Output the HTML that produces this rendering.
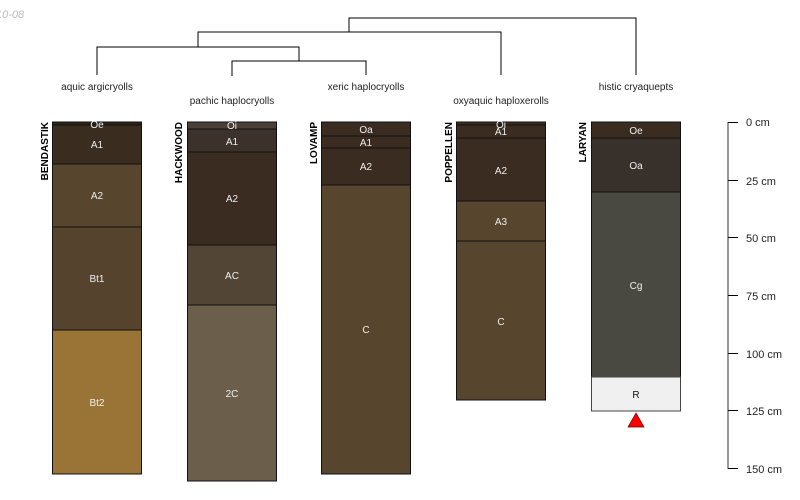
<!DOCTYPE html>
<html><head><style>body{margin:0;background:#fff}svg{display:block}</style></head>
<body>
<svg width="800" height="500" xmlns="http://www.w3.org/2000/svg" font-family="Liberation Sans, sans-serif">
<text x="-4" y="18" font-size="11" font-style="italic" fill="#bbb">10-08</text>
<g stroke="#000" stroke-width="1" fill="none">
<polyline points="349,32 349,18 636,18 636,75"/>
<polyline points="198,47 198,32 501,32 501,75"/>
<polyline points="97,75 97,47 299,47 299,61"/>
<polyline points="232,76 232,61 366,61 366,75"/>
</g>
<g font-size="10" fill="#222" text-anchor="middle">
<text x="97" y="90">aquic argicryolls</text>
<text x="232" y="104">pachic haplocryolls</text>
<text x="366" y="90">xeric haplocryolls</text>
<text x="501" y="104">oxyaquic haploxerolls</text>
<text x="636" y="90">histic cryaquepts</text>
</g>
<g font-size="10" font-weight="bold" fill="#000">
<text transform="translate(48,122) rotate(-90)" text-anchor="end">BENDASTIK</text>
<text transform="translate(182,122) rotate(-90)" text-anchor="end">HACKWOOD</text>
<text transform="translate(317,122) rotate(-90)" text-anchor="end">LOVAMP</text>
<text transform="translate(452,122) rotate(-90)" text-anchor="end">POPPELLEN</text>
<text transform="translate(586,122) rotate(-90)" text-anchor="end">LARYAN</text>
</g>
<g stroke="#111" stroke-width="1">
<rect x="52.5" y="122" width="89" height="3" fill="#2f2418"/>
<rect x="52.5" y="125" width="89" height="39" fill="#3a2d20"/>
<rect x="52.5" y="164" width="89" height="63" fill="#58452e"/>
<rect x="52.5" y="227" width="89" height="103" fill="#56432d"/>
<rect x="52.5" y="330" width="89" height="144" fill="#9a7437"/>

<rect x="187.5" y="122" width="89" height="7" fill="#4a4038"/>
<rect x="187.5" y="129" width="89" height="23" fill="#3a322b"/>
<rect x="187.5" y="152" width="89" height="93" fill="#3a2c20"/>
<rect x="187.5" y="245" width="89" height="60" fill="#524536"/>
<rect x="187.5" y="305" width="89" height="176" fill="#6b5f4b"/>

<rect x="321.5" y="122" width="89" height="14" fill="#3a2c20"/>
<rect x="321.5" y="136" width="89" height="12" fill="#3a2c20"/>
<rect x="321.5" y="148" width="89" height="37" fill="#3a2c20"/>
<rect x="321.5" y="185" width="89" height="289" fill="#58452e"/>

<rect x="456.5" y="122" width="89" height="3" fill="#3a2c20"/>
<rect x="456.5" y="125" width="89" height="13" fill="#3a2c20"/>
<rect x="456.5" y="138" width="89" height="63" fill="#3a2c20"/>
<rect x="456.5" y="201" width="89" height="40" fill="#58452e"/>
<rect x="456.5" y="241" width="89" height="159" fill="#58452e"/>

<rect x="591.5" y="122" width="89" height="16" fill="#3a2c20"/>
<rect x="591.5" y="138" width="89" height="54" fill="#38302b"/>
<rect x="591.5" y="192" width="89" height="185" fill="#494941"/>
<rect x="591.5" y="377" width="89" height="34" fill="#f0f0f0" stroke="#444"/>
</g>
<polygon points="636,413 628,427 644,427" fill="#f00" stroke="#600" stroke-width="0.7"/>
<g font-size="10" fill="#eee" text-anchor="middle">
<text x="97" y="128">Oe</text>
<text x="97" y="148">A1</text>
<text x="97" y="199">A2</text>
<text x="97" y="282">Bt1</text>
<text x="97" y="406">Bt2</text>
<text x="232" y="129">Oi</text>
<text x="232" y="145">A1</text>
<text x="232" y="202">A2</text>
<text x="232" y="279">AC</text>
<text x="232" y="397">2C</text>
<text x="366" y="133">Oa</text>
<text x="366" y="146">A1</text>
<text x="366" y="170">A2</text>
<text x="366" y="333">C</text>
<text x="501" y="128">Oi</text>
<text x="501" y="135">A1</text>
<text x="501" y="174">A2</text>
<text x="501" y="225">A3</text>
<text x="501" y="325">C</text>
<text x="636" y="134">Oe</text>
<text x="636" y="169">Oa</text>
<text x="636" y="289">Cg</text>
<text x="636" y="398" fill="#111">R</text>
</g>
<g stroke="#777" stroke-width="1.5" fill="none">
<line x1="728" y1="122" x2="728" y2="469"/>
</g>
<g stroke="#000" stroke-width="1">
<line x1="728" y1="122.5" x2="738" y2="122.5"/>
<line x1="728" y1="180.5" x2="738" y2="180.5"/>
<line x1="728" y1="237.5" x2="738" y2="237.5"/>
<line x1="728" y1="295.5" x2="738" y2="295.5"/>
<line x1="728" y1="353.5" x2="738" y2="353.5"/>
<line x1="728" y1="410.5" x2="738" y2="410.5"/>
<line x1="728" y1="468.5" x2="738" y2="468.5"/>
</g>
<g font-size="11" fill="#222">
<text x="746" y="126">0 cm</text>
<text x="746" y="185">25 cm</text>
<text x="746" y="242">50 cm</text>
<text x="746" y="300">75 cm</text>
<text x="746" y="358">100 cm</text>
<text x="746" y="415">125 cm</text>
<text x="746" y="473">150 cm</text>
</g>
</svg>
</body></html>
